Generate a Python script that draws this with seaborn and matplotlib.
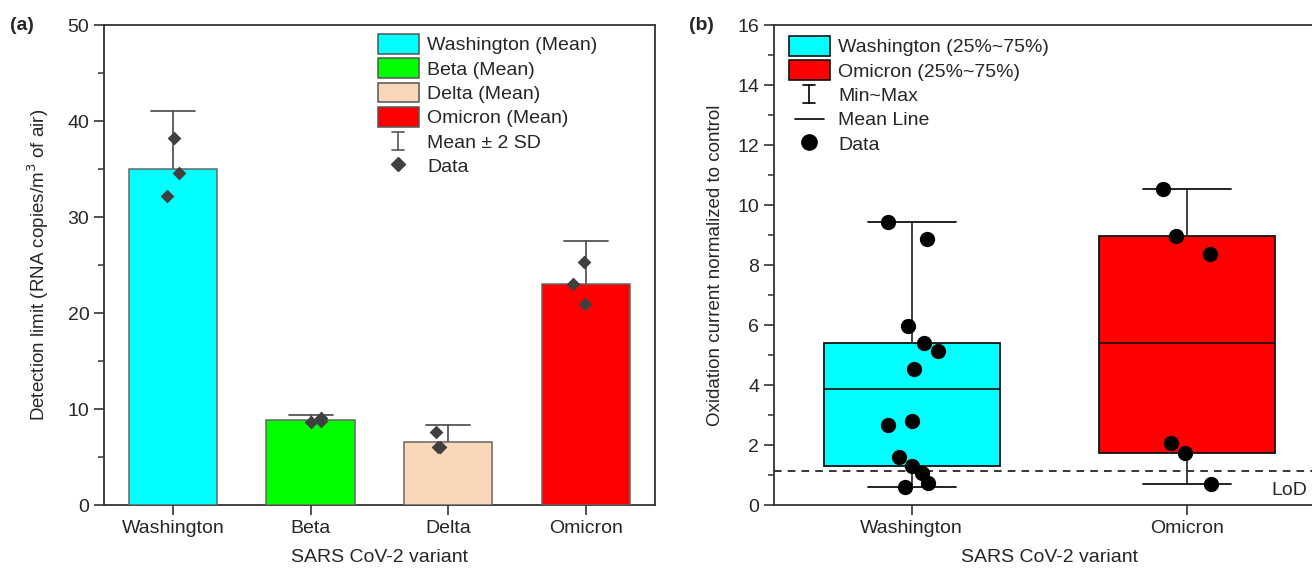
import numpy as np
import pandas as pd
import seaborn as sns
import matplotlib.pyplot as plt
from matplotlib.patches import Patch
from matplotlib.lines import Line2D
from matplotlib.legend_handler import HandlerBase
from matplotlib.ticker import MultipleLocator

# panel (a): detection limit, three replicates per variant
variants_a = ['Washington', 'Beta', 'Delta', 'Omicron']
wash_a = [38.2, 34.6, 32.2]
beta_a = [8.6, 8.8, 9.1]
delta_a = [6.0, 6.0, 7.6]
omi_a = [25.3, 23.0, 20.9]
colors_a = ['#00ffff', '#00ff00', '#fad7b9', '#ff0000']

# panel (b): oxidation current normalized to control
variants_b = ['Washington', 'Omicron']
wash_b = [9.44, 8.87, 5.98, 5.39, 5.12, 4.52, 2.81, 2.67, 1.59, 1.30, 1.08, 0.74, 0.61]
omi_b = [10.53, 8.98, 8.36, 2.08, 1.74, 0.70]
colors_b = ['#00ffff', '#ff0000']
lod = 1.15

df_a = pd.DataFrame({
    'variant': np.repeat(variants_a, 3),
    'value': wash_a + beta_a + delta_a + omi_a,
})
df_b = pd.DataFrame({
    'variant': ['Washington'] * len(wash_b) + ['Omicron'] * len(omi_b),
    'value': wash_b + omi_b,
})


class IBar:
    def __init__(self, color):
        self.color = color


class HandlerIBar(HandlerBase):
    # little "I" glyph for the error bar entries
    def create_artists(self, legend, orig, xdescent, ydescent, width, height, fontsize, trans):
        xc = width / 2 - xdescent
        lo, hi = 0.05 * height - ydescent, 0.95 * height - ydescent
        cw = 0.15 * width
        kw = dict(color=orig.color, linewidth=1.2, transform=trans)
        return [Line2D([xc, xc], [lo, hi], **kw),
                Line2D([xc - cw, xc + cw], [hi, hi], **kw),
                Line2D([xc - cw, xc + cw], [lo, lo], **kw)]


class ShortLine:
    pass


class HandlerShortLine(HandlerBase):
    def create_artists(self, legend, orig, xdescent, ydescent, width, height, fontsize, trans):
        y = height / 2 - ydescent
        return [Line2D([0.15 * width - xdescent, 0.85 * width - xdescent], [y, y],
                       color='black', linewidth=1.2, transform=trans)]


sns.set_style('ticks')
plt.rcParams['font.family'] = ['Liberation Sans', 'DejaVu Sans']
plt.rcParams['axes.edgecolor'] = '#333333'
plt.rcParams['axes.linewidth'] = 1.3
fs = 14

fig = plt.figure(figsize=(13.12, 5.7), dpi=100)
ax1 = fig.add_axes([0.0792, 0.114, 0.4200, 0.842])
ax2 = fig.add_axes([0.5899, 0.114, 0.4200, 0.842])

# ---- panel (a)
np.random.seed(3)
sns.barplot(data=df_a, x='variant', y='value', hue='variant', order=variants_a,
            palette=colors_a, saturation=1, errorbar=('sd', 2), capsize=0.32, width=0.64,
            err_kws={'color': '#555555', 'linewidth': 1.3}, edgecolor='#666666',
            linewidth=1.1, legend=False, ax=ax1)
for p in ax1.patches:
    p.set_zorder(3)
for ln in ax1.lines:
    ln.set_zorder(2)
sns.stripplot(data=df_a, x='variant', y='value', order=variants_a, color='#404040',
              marker='D', size=7, jitter=0.1, ax=ax1, zorder=4)
ax1.set_xlim(-0.5, 3.5)
ax1.set_ylim(0, 50)
ax1.yaxis.set_major_locator(MultipleLocator(10))
ax1.yaxis.set_minor_locator(MultipleLocator(5))
ax1.set_ylabel('Detection limit (RNA copies/m$^3$ of air)', fontsize=13.5, labelpad=12)
ax1.set_xlabel('SARS CoV-2 variant', fontsize=fs, labelpad=9)
ax1.text(-0.17, 1.0, '(a)', transform=ax1.transAxes, fontsize=fs, fontweight='bold',
         va='center')

h_a = [Patch(facecolor=c, edgecolor='#555555', linewidth=1.1) for c in colors_a]
h_a += [IBar('#555555'),
        Line2D([0], [0], color='#404040', marker='D', linestyle='none', markersize=7)]
lab_a = [f'{v} (Mean)' for v in variants_a] + ['Mean \u00b1 2 SD', 'Data']
ax1.legend(h_a, lab_a, loc='upper left', bbox_to_anchor=(0.497, 0.982),
           frameon=False, fontsize=fs, handlelength=2.1, handleheight=1.2,
           labelspacing=0.2, handletextpad=0.45, borderaxespad=0, borderpad=0,
           handler_map={IBar: HandlerIBar()})

# ---- panel (b)
for i, (vals, col) in enumerate(zip([wash_b, omi_b], colors_b)):
    v = np.array(vals)
    stats = [{
        'q1': np.percentile(v, 25, method='nearest'),
        'q3': np.percentile(v, 75, method='nearest'),
        'med': v.mean(),
        'whislo': v.min(),
        'whishi': v.max(),
        'fliers': [],
    }]
    ax2.bxp(stats, positions=[i], widths=0.64, capwidths=0.32, patch_artist=True,
            manage_ticks=False, showfliers=False,
            boxprops={'facecolor': col, 'edgecolor': '#111111', 'linewidth': 1.3},
            medianprops={'color': '#111111', 'linewidth': 1.2},
            whiskerprops={'color': '#333333', 'linewidth': 1.3},
            capprops={'color': '#111111', 'linewidth': 1.3}, zorder=2)
np.random.seed(7)
sns.stripplot(data=df_b, x='variant', y='value', order=variants_b, color='black',
              size=11, jitter=0.1, ax=ax2, zorder=4)
ax2.axhline(lod, color='black', linestyle=(0, (5, 4)), linewidth=1.1, zorder=1)
ax2.text(1.435, 0.5, 'LoD', fontsize=fs, ha='right', va='center')
ax2.set_xlim(-0.5, 1.5)
ax2.set_ylim(0, 16)
ax2.yaxis.set_major_locator(MultipleLocator(2))
ax2.yaxis.set_minor_locator(MultipleLocator(1))
ax2.set_ylabel('Oxidation current normalized to control', fontsize=13.5, labelpad=10)
ax2.set_xlabel('SARS CoV-2 variant', fontsize=fs, labelpad=9)
ax2.text(-0.155, 1.0, '(b)', transform=ax2.transAxes, fontsize=fs, fontweight='bold',
         va='center')

h_b = [Patch(facecolor=c, edgecolor='#111111', linewidth=1.2) for c in colors_b]
h_b += [IBar('black'), ShortLine(),
        Line2D([0], [0], color='black', marker='o', linestyle='none', markersize=11)]
lab_b = [f'{v} (25%~75%)' for v in variants_b] + ['Min~Max', 'Mean Line', 'Data']
ax2.legend(h_b, lab_b, loc='upper left', bbox_to_anchor=(0.027, 0.978),
           frameon=False, fontsize=fs, handlelength=2.1, handleheight=1.2,
           labelspacing=0.2, handletextpad=0.45, borderaxespad=0, borderpad=0,
           handler_map={IBar: HandlerIBar(), ShortLine: HandlerShortLine()})

for ax in (ax1, ax2):
    ax.tick_params(axis='both', which='major', length=7, width=1.2, labelsize=fs,
                   color='#333333', direction='out')
    ax.tick_params(axis='y', which='minor', length=4, width=1.1, color='#333333')
    ax.tick_params(axis='x', which='minor', length=0)
    for s in ax.spines.values():
        s.set_visible(True)

fig.savefig('out.png', dpi=100)
